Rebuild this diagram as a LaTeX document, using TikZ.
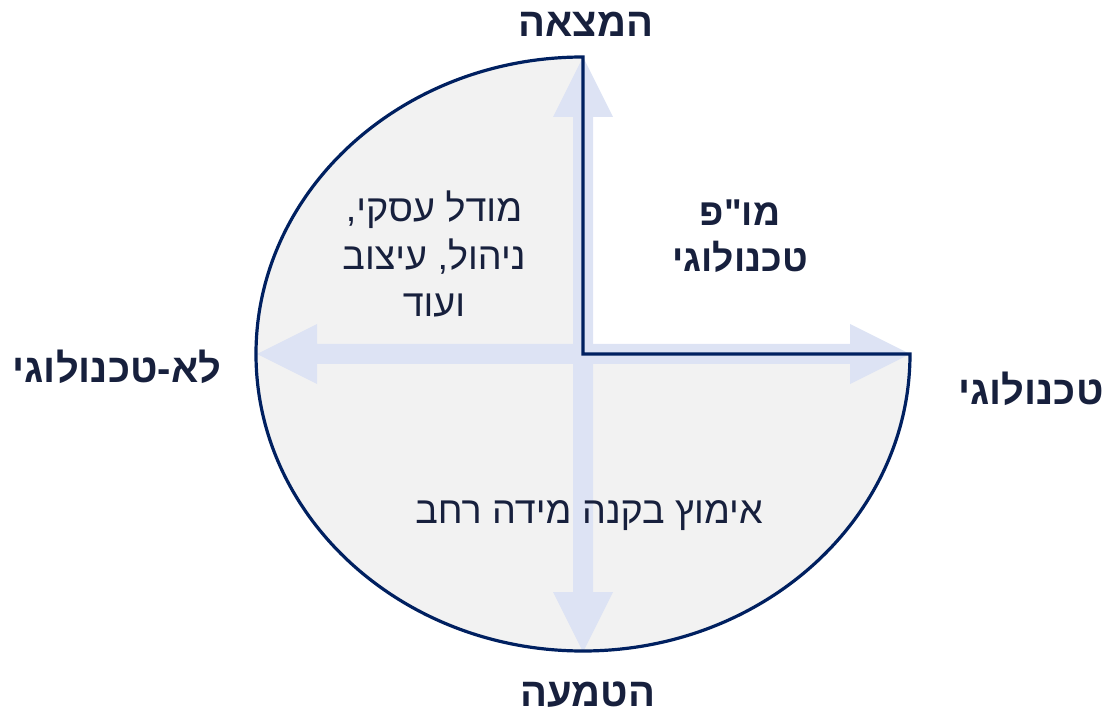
\documentclass[tikz,border=0pt]{standalone}
\usepackage{fontspec}
\setmainfont[Script=Hebrew]{Liberation Sans}
\newfontfamily\heb[Script=Hebrew]{Liberation Sans}
\TeXXeTstate=1
\definecolor{navyline}{HTML}{002060}
\definecolor{txt}{HTML}{17203D}
\definecolor{pie}{HTML}{F2F2F2}
\definecolor{arr}{HTML}{DDE3F4}
\begin{document}
\begin{tikzpicture}[x=0.75pt,y=-0.75pt,
  lbl/.style={text=txt,font=\heb\fontsize{30}{34}\selectfont\bfseries,inner sep=0pt},
  body/.style={text=txt,font=\heb\fontsize{28.3}{35.3}\selectfont,align=center,inner sep=0pt},
  bodyb/.style={text=txt,font=\heb\fontsize{28}{34.5}\selectfont\bfseries,align=center,inner sep=0pt}]
\useasboundingbox (0,0) rectangle (1108,713);
\coordinate (C) at (583,354);
\coordinate (T) at (583,57);
\coordinate (B) at (583,652);
\coordinate (L) at (257,354);
\coordinate (R) at (910,354);
% pie fill
\fill[pie] (C) -- (T) arc[start angle=90,end angle=360,x radius=245.25pt,y radius=222.75pt] -- cycle;
% axis arrows
\fill[arr] (T) -- (613,117) -- (593,117) -- (593,592) -- (613,592) -- (B)
  -- (553,592) -- (573,592) -- (573,117) -- (553,117) -- cycle;
\fill[arr] (L) -- (317,324) -- (317,344) -- (850,344) -- (850,324) -- (R)
  -- (850,384) -- (850,364) -- (317,364) -- (317,384) -- cycle;
% outline
\draw[navyline,line width=2.4pt,line join=miter] (C) -- (T) arc[start angle=90,end angle=360,x radius=245.25pt,y radius=222.75pt] -- cycle;
% labels
\node[lbl] (top) at (586,24) {\beginR המצאה\endR};
\node[lbl] (bot) at (588,695) {\beginR הטמעה\endR};
\node[lbl] (right) at (1031,389) {\beginR טכנולוגי\endR};
\node[lbl] (left) at (117,367) {\beginR לא-טכנולוגי\endR};
\node[body] (biz) at (434,254) {\beginR מודל עסקי,\endR\\ \beginR ניהול, עיצוב\endR\\ \beginR ועוד\endR};
\node[bodyb] (rnd) at (740,236) {\beginR מו"פ\endR\\ \beginR טכנולוגי\endR};
\node[body] (adopt) at (589,516) {\beginR אימוץ בקנה מידה רחב\endR};
\end{tikzpicture}
\end{document}
